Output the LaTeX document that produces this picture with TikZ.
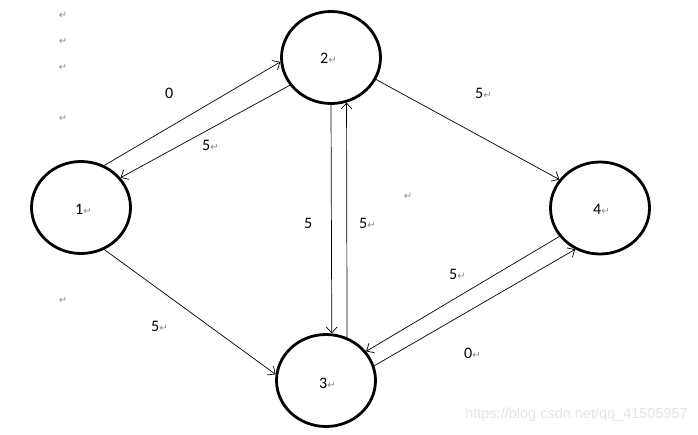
\documentclass[tikz,border=0pt]{standalone}
\usepackage{fontspec}
\setmainfont{Carlito}
\newfontfamily\dejavu{DejaVu Sans}
\newfontfamily\wmfont{Liberation Sans}
\usetikzlibrary{arrows.meta,shapes.geometric}
\newcommand\retmark{{\dejavu\fontsize{10}{10}\selectfont\color{black!45}↵}}
\begin{document}
\begin{tikzpicture}[x=1pt,y=-1pt,
  vertex/.style={draw=black,line width=2.8pt,ellipse,minimum width=99pt,minimum height=92pt,inner sep=0pt},
  edge/.style={line width=0.7pt,-{Straight Barb[length=6pt,width=11pt,line width=0.7pt]}},
  lbl/.style={inner sep=0pt,font=\fontsize{16}{16}\selectfont},
  ret/.style={inner sep=0pt,font=\dejavu\fontsize{10}{10}\selectfont,text=black!45}]
\useasboundingbox (0,0) rectangle (698,434);
\node[vertex] (n1) at (81,207.5) {};
\node[vertex] (n2) at (331,57.5) {};
\node[vertex] (n3) at (326,380.5) {};
\node[vertex] (n4) at (600,208) {};
% vertex labels
\node[lbl,anchor=base west] (t1) at (75,214) {1\retmark};
\node[lbl,anchor=base west] (t2) at (320,63) {2\retmark};
\node[lbl,anchor=base west] (t3) at (319,388) {3\retmark};
\node[lbl,anchor=base west] (t4) at (593,214) {4\retmark};
% edges
\draw[edge] (n1.61) -- (n2.185);
\draw[edge] (n2.214.5) -- (n1.37.7);
\draw[edge] (n1.-61) -- (n3.173.8);
\draw[edge] (n2.-26) -- (n4.145.4);
\draw[edge] (n2.-90) -- (n3.83.9);
\draw[edge] (n3.64.2) -- (n2.-71.4);
\draw[edge] (n4.215.7) -- (n3.36.9);
\draw[edge] (n3.17.2) -- (n4.239.2);
% edge labels
\node[lbl,anchor=base west] (e12) at (165,98) {0};
\node[lbl,anchor=base west] (e21) at (202,150) {5\retmark};
\node[lbl,anchor=base west] (e13) at (151,331) {5\retmark};
\node[lbl,anchor=base west] (e24) at (475,98) {5\retmark};
\node[lbl,anchor=base west] (e23) at (304,228) {5};
\node[lbl,anchor=base west] (e32) at (359,228) {5\retmark};
\node[lbl,anchor=base west] (e43) at (449,279) {5\retmark};
\node[lbl,anchor=base west] (e34) at (464,358) {0\retmark};
% stray paragraph marks
\node[ret] (r1) at (63,15) {↵};
\node[ret] (r2) at (63,41) {↵};
\node[ret] (r3) at (63,67) {↵};
\node[ret] (r4) at (63,118) {↵};
\node[ret] (r5) at (63,300) {↵};
\node[ret] (r6) at (408,196) {↵};
% watermark
\node[inner sep=0pt,anchor=east,font=\wmfont\fontsize{14.5}{14.5}\selectfont,text=black!10] (wm) at (688,415) {https://blog.csdn.net/qq\_41505957};
\end{tikzpicture}
\end{document}
